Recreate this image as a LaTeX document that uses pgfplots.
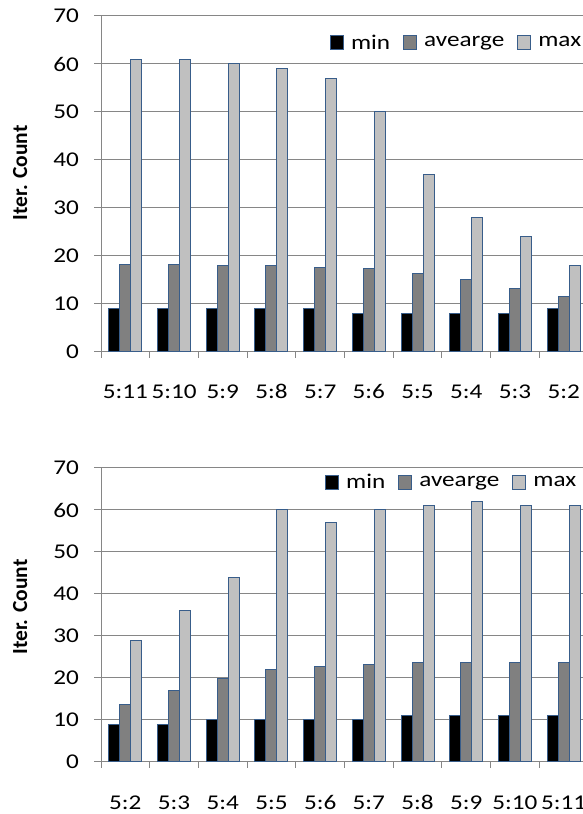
\documentclass[border=0pt]{standalone}
\usepackage{pgfplots}
\pgfplotsset{compat=1.18}
\usepackage{fontspec}
\setmainfont{Carlito}[FakeStretch=1.2]
\newfontfamily\labelfont{Carlito}
\definecolor{edge}{RGB}{56,93,138}
\definecolor{gridc}{RGB}{134,134,134}
\definecolor{avgc}{RGB}{128,128,128}
\definecolor{maxc}{RGB}{192,192,192}
\pgfplotsset{
  ybar legend/.style={/pgfplots/legend image code/.code={%
      \draw[##1, line width=1pt] (0pt,-7pt) rectangle (13pt,7pt);}},
  mybars/.style={
    scale only axis,
    ybar=0pt, bar width=11pt,
    xmin=-0.5, xmax=9.5,
    ymin=0, ymax=70, ytick={0,10,...,70},
    xtick={0,...,9},
    minor xtick={-0.5,0.5,...,9.5},
    axis lines=left,
    axis line style={-, gridc, line width=1pt},
    ymajorgrids, grid style={gridc, line width=1pt},
    tick align=outside,
    major tick length=7pt, minor tick length=6pt,
    major x tick style={draw=none},
    minor x tick style={gridc, line width=1pt},
    major y tick style={gridc, line width=1pt},
    /pgf/number format/assume math mode=true,
    tick label style={font=\fontsize{21}{25}\selectfont},
    every y tick label/.append style={anchor=east, inner sep=0pt, xshift=-15pt},
    xticklabel style={anchor=base, inner sep=0pt, yshift=-40pt},
    ylabel={\labelfont\bfseries\fontsize{21.5}{25}\selectfont Iter. Count},
    legend columns=3,
    legend style={draw=none, fill=none, inner sep=0pt, anchor=west,
      font=\fontsize{21}{25}\selectfont,
      /tikz/every odd column/.append style={column sep=5pt},
      /tikz/every even column/.append style={column sep=11pt}},
  },
  sermin/.style={fill=black, draw=edge, line width=1pt},
  seravg/.style={fill=avgc, draw=edge, line width=1pt},
  sermax/.style={fill=maxc, draw=edge, line width=1pt},
}
\begin{document}
\begin{tikzpicture}
\useasboundingbox (0,0) rectangle (583pt,814pt);
\clip (0,0) rectangle (583pt,814pt);
% top chart
\begin{axis}[mybars,
  at={(101pt,462pt)}, anchor=south west,
  width=487pt, height=336pt,
  xticklabels={{5:11},{5:10},{5:9},{5:8},{5:7},{5:6},{5:5},{5:4},{5:3},{5:2}},
  ylabel style={at={(axis description cs:-0.166,0.533)}, anchor=center},
  legend style={at={(axis description cs:0.47,0.921)}},
]
\addplot[sermin] coordinates {(0,9) (1,9) (2,9) (3,9) (4,9) (5,8) (6,8) (7,8) (8,8) (9,9)};
\addplot[seravg] coordinates {(0,18.3) (1,18.3) (2,18.1) (3,18.0) (4,17.7) (5,17.4) (6,16.4) (7,15.1) (8,13.3) (9,11.5)};
\addplot[sermax] coordinates {(0,61) (1,61) (2,60) (3,59) (4,57) (5,50) (6,37) (7,28) (8,24) (9,18)};
\legend{min,avearge,max}
\end{axis}
% bottom chart
\begin{axis}[mybars,
  at={(101pt,52pt)}, anchor=south west,
  width=487pt, height=294pt,
  xticklabels={{5:2},{5:3},{5:4},{5:5},{5:6},{5:7},{5:8},{5:9},{5:10},{5:11}},
  ylabel style={at={(axis description cs:-0.166,0.527)}, anchor=center},
  legend style={at={(axis description cs:0.46,0.952)}},
]
\addplot[sermin] coordinates {(0,9) (1,9) (2,10) (3,10) (4,10) (5,10) (6,11) (7,11) (8,11) (9,11)};
\addplot[seravg] coordinates {(0,13.6) (1,17.1) (2,19.8) (3,22.1) (4,22.7) (5,23.2) (6,23.6) (7,23.7) (8,23.7) (9,23.7)};
\addplot[sermax] coordinates {(0,29) (1,36) (2,44) (3,60) (4,57) (5,60) (6,61) (7,62) (8,61) (9,61)};
\legend{min,avearge,max}
\end{axis}
\end{tikzpicture}
\end{document}
